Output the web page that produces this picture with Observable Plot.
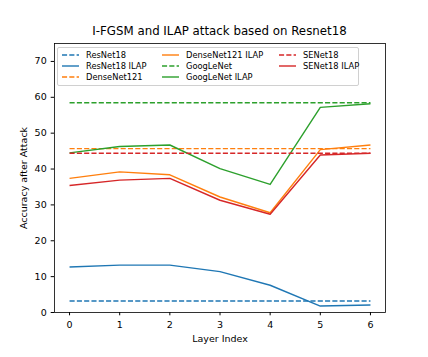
<!DOCTYPE html>
<html><head><meta charset="utf-8">
<script src="https://cdn.jsdelivr.net/npm/d3@7"></script>
<script src="https://cdn.jsdelivr.net/npm/@observablehq/plot@0.6"></script>
<style>
body{margin:0;background:#fff;}
#wrap{position:relative;width:428px;height:357px;font-family:"DejaVu Sans",sans-serif;color:#000;}
#title{position:absolute;left:0;width:439px;top:25.5px;text-align:center;font-size:11.8px;line-height:1;}
#legend{position:absolute;left:57px;top:47px;width:300px;height:37px;border:1px solid #d0d0d0;border-radius:2px;background:rgba(255,255,255,0.8);}
.item{position:absolute;height:10px;font-size:8.3px;line-height:10px;white-space:nowrap;}
.item svg{position:absolute;left:0;top:0;}
.item span{position:absolute;left:26px;top:0;}
</style></head><body><div id="wrap"><div id="title">I-FGSM and ILAP attack based on Resnet18</div></div>
<script>
const layers = [0, 1, 2, 3, 4, 5, 6];
const resnet18 = [3.2, 3.2, 3.2, 3.2, 3.2, 3.2, 3.2];
const resnet18Ilap = [12.7, 13.2, 13.2, 11.4, 7.6, 1.8, 2.1];
const densenet121 = [45.7, 45.7, 45.7, 45.7, 45.7, 45.7, 45.7];
const densenet121Ilap = [37.4, 39.2, 38.4, 32.2, 27.8, 45.4, 46.7];
const googlenet = [58.5, 58.5, 58.5, 58.5, 58.5, 58.5, 58.5];
const googlenetIlap = [44.5, 46.3, 46.7, 40.1, 35.7, 57.2, 58.2];
const senet18 = [44.4, 44.4, 44.4, 44.4, 44.4, 44.4, 44.4];
const senet18Ilap = [35.4, 36.9, 37.4, 31.3, 27.4, 43.9, 44.4];
const seriesNames = ["ResNet18", "ResNet18 ILAP", "DenseNet121", "DenseNet121 ILAP", "GoogLeNet", "GoogLeNet ILAP", "SENet18", "SENet18 ILAP"];
const seriesValues = [resnet18, resnet18Ilap, densenet121, densenet121Ilap, googlenet, googlenetIlap, senet18, senet18Ilap];
const seriesColors = ["#1f77b4", "#1f77b4", "#ff7f0e", "#ff7f0e", "#2ca02c", "#2ca02c", "#d62728", "#d62728"];
const seriesDashed = [true, false, true, false, true, false, true, false];
const yTicks = [0, 10, 20, 30, 40, 50, 60, 70];

const dash = "5.1,2.2";
const lineMarks = seriesNames.map((name, i) =>
  Plot.line(layers.map((l, j) => ({x: l, y: seriesValues[i][j]})), {
    x: "x", y: "y", stroke: seriesColors[i], strokeWidth: 1.4,
    strokeDasharray: seriesDashed[i] ? dash : null, strokeLinecap: "butt"
  })
);

const chart = Plot.plot({
  width: 428, height: 357,
  marginLeft: 54, marginRight: 43, marginTop: 43, marginBottom: 45,
  style: {fontFamily: "DejaVu Sans, sans-serif", fontSize: "9.5px", color: "#000", background: "#fff", overflow: "visible"},
  x: {domain: [-0.3, 6.3]},
  y: {domain: [0, 75]},
  marks: [
    ...lineMarks,
    Plot.frame({stroke: "#000", strokeWidth: 0.8}),
    Plot.axisX(layers, {tickSize: 3.3, tickPadding: 5, label: "Layer Index", labelAnchor: "center", labelArrow: "none", labelOffset: 29, fontSize: 9.5}),
    Plot.axisY(yTicks, {tickSize: 3.3, tickPadding: 4.5, label: "Accuracy after Attack", labelAnchor: "center", labelArrow: "none", labelOffset: 34, fontSize: 9.5})
  ]
});
const wrap = document.getElementById("wrap");
wrap.insertBefore(chart, wrap.firstChild);

const legend = document.createElement("div");
legend.id = "legend";
const colX = [2, 102, 219];
const rowY = [2, 13, 24];
seriesNames.forEach((name, i) => {
  const col = Math.floor(i / 3), row = i % 3;
  const it = document.createElement("div");
  it.className = "item";
  it.style.left = colX[col] + "px";
  it.style.top = rowY[row] + "px";
  it.innerHTML = `<svg width="20" height="10"><line x1="2" x2="19" y1="5" y2="5" stroke="${seriesColors[i]}" stroke-width="1.4" ${seriesDashed[i] ? `stroke-dasharray="${dash}"` : ""}/></svg><span>${name}</span>`;
  legend.appendChild(it);
});
wrap.appendChild(legend);
</script></body></html>
